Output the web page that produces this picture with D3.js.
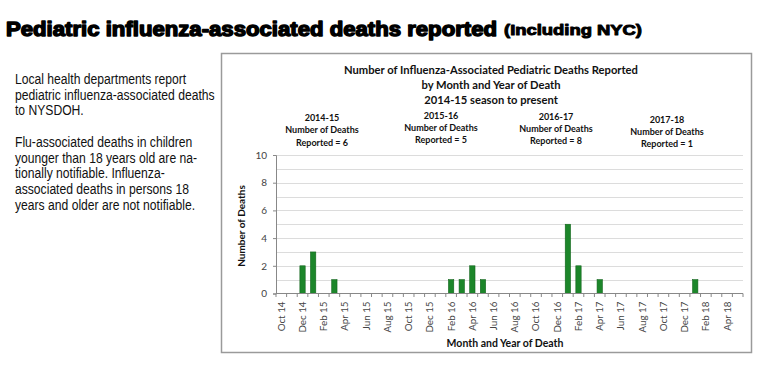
<!DOCTYPE html>
<html>
<head>
<meta charset="utf-8">
<script src="https://cdn.jsdelivr.net/npm/d3@7"></script>
<style>
  body { margin: 0; background: #fff; }
  svg { display: block; }
</style>
</head>
<body>
<script>
"use strict";

// month categories, Oct 2014 through May 2018
var months = [
  "Oct 14", "Nov 14", "Dec 14", "Jan 15", "Feb 15", "Mar 15", "Apr 15", "May 15",
  "Jun 15", "Jul 15", "Aug 15", "Sep 15", "Oct 15", "Nov 15", "Dec 15", "Jan 16",
  "Feb 16", "Mar 16", "Apr 16", "May 16", "Jun 16", "Jul 16", "Aug 16", "Sep 16",
  "Oct 16", "Nov 16", "Dec 16", "Jan 17", "Feb 17", "Mar 17", "Apr 17", "May 17",
  "Jun 17", "Jul 17", "Aug 17", "Sep 17", "Oct 17", "Nov 17", "Dec 17", "Jan 18",
  "Feb 18", "Mar 18", "Apr 18", "May 18"
];
var deaths = [
  0, 0, 2, 3, 0, 1, 0, 0,
  0, 0, 0, 0, 0, 0, 0, 0,
  1, 1, 2, 1, 0, 0, 0, 0,
  0, 0, 0, 5, 2, 0, 1, 0,
  0, 0, 0, 0, 0, 0, 0, 1,
  0, 0, 0, 0
];
// every other month gets a label
var tickLabels = months.filter(function(d, i) { return i % 2 === 0 && i < 43; });
var yTicks = [0, 2, 4, 6, 8, 10];

var seasons = ["2014-15", "2015-16", "2016-17", "2017-18"];
var seasonTotals = [6, 5, 8, 1];

var titleLines = [
  "Number of Influenza-Associated Pediatric Deaths Reported",
  "by Month and Year of Death",
  "2014-15 season to present"
];
var noteLines = [
  ["Local health departments report", "pediatric influenza-associated deaths", "to NYSDOH."],
  ["Flu-associated deaths in children", "younger than 18 years old are na-",
   "tionally notifiable. Influenza-", "associated deaths in persons 18",
   "years and older are not notifiable."]
];

(function () {
  var W = 775, H = 377;
  var svg = d3.select("body").append("svg")
    .attr("width", W)
    .attr("height", H);

  // page heading
  svg.append("text")
    .attr("x", 6).attr("y", 36)
    .attr("textLength", 491).attr("lengthAdjust", "spacingAndGlyphs")
    .style("font-family", "'Liberation Sans', Arial, sans-serif")
    .style("font-weight", "900").style("font-size", "19.5px")
    .attr("stroke", "#000").attr("stroke-width", 1.4)
    .attr("stroke-linejoin", "round")
    .text("Pediatric influenza-associated deaths reported");
  svg.append("text")
    .attr("x", 504).attr("y", 35)
    .attr("textLength", 138).attr("lengthAdjust", "spacingAndGlyphs")
    .style("font-family", "'Liberation Sans', Arial, sans-serif")
    .style("font-weight", "900").style("font-size", "15px")
    .attr("stroke", "#000").attr("stroke-width", 1)
    .attr("stroke-linejoin", "round")
    .text("(Including NYC)");

  // notes on the left, narrow face
  var notes = svg.append("g")
    .attr("transform", "translate(15,0) scale(0.81,1)")
    .style("font-family", "'Liberation Sans', Arial, sans-serif")
    .style("font-size", "15px").attr("fill", "#111");
  var paraY = [84, 147];
  noteLines.forEach(function(lines, p) {
    lines.forEach(function(line, i) {
      notes.append("text")
        .attr("x", 0).attr("y", paraY[p] + i * 15.7)
        .text(line);
    });
  });

  // chart frame
  svg.append("rect")
    .attr("x", 221.5).attr("y", 53.5)
    .attr("width", 530).attr("height", 299)
    .attr("fill", "#fff")
    .attr("stroke", "#9a9a9a").attr("stroke-width", 1.5);

  var margin = {left: 276, right: 743, top: 155, bottom: 293.5};

  var x = d3.scaleBand()
    .domain(months)
    .range([margin.left, margin.right])
    .paddingInner(0.5).paddingOuter(0.25);
  var xb = d3.scaleBand().domain(months).range([margin.left, margin.right]);
  var y = d3.scaleLinear().domain([0, 10]).range([margin.bottom, margin.top]);

  var calibri = "Lato, 'Open Sans', sans-serif";

  // chart titles
  titleLines.forEach(function(t, i) {
    svg.append("text")
      .attr("x", 491).attr("y", 74 + i * 15)
      .attr("text-anchor", "middle")
      .style("font-family", calibri).style("font-weight", "bold")
      .style("font-size", "11.2px").attr("fill", "#111")
      .text(t);
  });

  // season notes
  var seasonX = [322, 441, 556, 667];
  var seasonY = [121, 118.5, 119.5, 122.5];
  seasons.forEach(function(s, i) {
    var lines = [s, "Number of Deaths", "Reported = " + seasonTotals[i]];
    lines.forEach(function(t, j) {
      svg.append("text")
        .attr("x", seasonX[i]).attr("y", seasonY[i] + j * 12.3)
        .attr("text-anchor", "middle")
        .style("font-family", calibri).style("font-weight", "bold")
        .style("font-size", "9px").attr("fill", "#111")
        .text(t);
    });
  });

  // gridlines at every unit
  svg.append("g")
    .selectAll("line")
    .data(d3.range(1, 11))
    .enter().append("line")
    .attr("x1", margin.left).attr("x2", margin.right)
    .attr("y1", function(d) { return Math.round(y(d)) + 0.5; })
    .attr("y2", function(d) { return Math.round(y(d)) + 0.5; })
    .attr("stroke", "#dcdcdc").attr("stroke-width", 1);

  // bars
  svg.append("g")
    .selectAll("rect")
    .data(deaths)
    .enter().append("rect")
    .attr("x", function(d, i) { return x(months[i]); })
    .attr("width", x.bandwidth())
    .attr("y", function(d) { return y(d); })
    .attr("height", function(d) { return y(0) - y(d); })
    .attr("fill", "#1c862a")
    .attr("stroke", "#12641c").attr("stroke-width", 0.6);

  // y axis
  var yAxis = svg.append("g")
    .attr("transform", "translate(" + margin.left + ",0)")
    .call(d3.axisLeft(y).tickValues(yTicks).tickSize(3).tickPadding(6));
  yAxis.selectAll("path, line").attr("stroke", "#888");
  yAxis.selectAll("text")
    .style("font-family", calibri).style("font-size", "10px").attr("fill", "#444");

  // x axis: tick at each month boundary
  var xAxis = svg.append("g")
    .attr("transform", "translate(0," + margin.bottom + ")");
  xAxis.append("line")
    .attr("x1", margin.left).attr("x2", margin.right)
    .attr("stroke", "#888");
  xAxis.selectAll(".tk")
    .data(months.concat(["end"]))
    .enter().append("line")
    .attr("class", "tk")
    .attr("x1", function(d, i) { return i < months.length ? xb(d) : margin.right; })
    .attr("x2", function(d, i) { return i < months.length ? xb(d) : margin.right; })
    .attr("y1", 0).attr("y2", 3.5)
    .attr("stroke", "#888");
  xAxis.selectAll(".lbl")
    .data(tickLabels)
    .enter().append("text")
    .attr("class", "lbl")
    .attr("transform", function(d) {
      return "translate(" + (xb(d) + xb.bandwidth() / 2) + ",8) rotate(-90)";
    })
    .attr("dy", "0.35em")
    .attr("text-anchor", "end")
    .style("font-family", calibri).style("font-size", "9.8px").attr("fill", "#444")
    .text(function(d) { return d; });

  // axis titles
  svg.append("text")
    .attr("transform", "translate(245,226) rotate(-90)")
    .attr("text-anchor", "middle")
    .style("font-family", calibri).style("font-weight", "bold")
    .style("font-size", "10px").attr("fill", "#111")
    .text("Number of Deaths");
  svg.append("text")
    .attr("x", 505).attr("y", 346.5)
    .attr("text-anchor", "middle")
    .style("font-family", calibri).style("font-weight", "bold")
    .style("font-size", "10.5px").attr("fill", "#111")
    .text("Month and Year of Death");
})();
</script>
</body>
</html>
